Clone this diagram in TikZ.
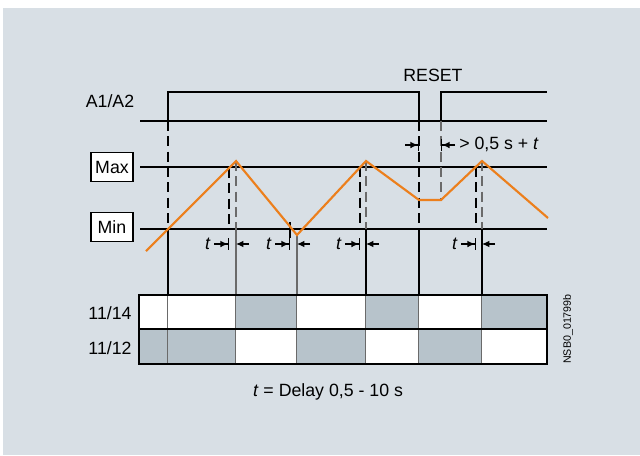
\documentclass[tikz,border=0pt]{standalone}
\usepackage{fontspec}
\setmainfont{Liberation Sans}
\usetikzlibrary{arrows.meta,positioning}
\definecolor{SiBack}{HTML}{D8DFE5}
\definecolor{SiCell}{HTML}{B7C3CB}
\definecolor{SiOrange}{HTML}{EC7F1C}
\definecolor{SiLine}{HTML}{6A6A6A}

\begin{document}
\begin{tikzpicture}[x=0.75pt,y=-0.75pt,font=\fontsize{13.3}{16}\selectfont,
  level/.style={line width=0.9pt},
  signal/.style={line width=1.7pt,line join=miter},
  ramp/.style={SiOrange,line width=1.6pt,line join=miter},
  guide/.style={line width=0.9pt,dash pattern=on 7.5pt off 4pt},
  drop/.style={line width=0.9pt},
  tag/.style={draw,fill=white,line width=0.9pt,inner xsep=3pt,minimum width=31.5pt,minimum height=22pt},
  delayin/.style={line width=0.9pt,-{Latex[length=5.5pt,width=5pt]Bar[width=9pt,line width=0.9pt]}},
  delayout/.style={line width=0.9pt,-{Latex[length=5.5pt,width=5pt]}}]
  % background
  \fill[SiBack] (3,8) rectangle (640,455);
  \useasboundingbox (0,0) rectangle (640,455);

  % labels
  \node (a1a2) at (110,101) {A1/A2};
  \node[tag] (max) at (112,167) {Max};
  \node[tag] (min) at (112,227) {Min};
  \node (reset) at (433,75) {RESET};

  % levels
  \draw[level] (140,121) -- (547,121);
  \draw[level] (140,167) -- (547,167);
  \draw[level] (140,229) -- (547,229);

  % supply A1/A2
  \draw[signal] (140,121) -- (168,121) -- (168,92) -- (419,92) -- (419,121)
    -- (441,121) -- (441,92) -- (547,92);

  % guide lines
  \draw[guide] (168,121) -- (168,229);
  \draw[drop] (168,229) -- (168,295);
  \draw[guide] (419,121) -- (419,229);
  \draw[drop] (419,229) -- (419,295);
  \draw[guide,SiLine] (441,121) -- (441,200);
  \draw[guide,SiLine] (236,161) -- (236,229);
  \draw[drop,SiLine] (236,229) -- (236,295);
  \draw[drop,SiLine] (297,235) -- (297,295);
  \draw[guide,SiLine] (366,161) -- (366,229);
  \draw[drop] (366,229) -- (366,295);
  \draw[guide,SiLine] (482,161) -- (482,229);
  \draw[drop] (482,229) -- (482,295);
  \draw[guide] (229,168) -- (229,229);
  \draw[drop] (290,222) -- (290,238);
  \draw[guide] (360,167) -- (360,229);
  \draw[guide] (476,167) -- (476,229);

  % measured value
  \draw[ramp] (146,251) -- (236,161) -- (297,235) -- (366,161) -- (419,200)
    -- (441,200) -- (482,161) -- (548,218);

  % delay t
  \foreach \ta/\tb [count=\i] in {229/236,290/297,360/366,476/482}{
    \node (t\i) at (\ta-21,244) {\textit{t}};
    \draw[delayin] (\ta-15,244) -- (\ta,244);
    \draw[delayout] (\tb+13,244) -- (\tb,244);
  }

  % reset pause
  \draw[delayin] (405,145) -- (419,145);
  \draw[delayin] (455,145) -- (441,145);
  \node[anchor=west,inner sep=0pt] (pause) at (459,144) {> 0,5 s + \textit{t}};

  % contacts
  \foreach \xa/\xb/\fa/\fb in {139/168/white/SiCell,168/236/white/SiCell,
    236/297/SiCell/white,297/366/white/SiCell,366/419/SiCell/white,
    419/482/white/SiCell,482/547/SiCell/white}{
    \fill[\fa] (\xa,295) rectangle (\xb,329);
    \fill[\fb] (\xa,329) rectangle (\xb,364);
    \draw[drop,SiLine] (\xb,295) -- (\xb,364);
  }
  \draw[line width=1.3pt] (139,329) -- (547,329);
  \draw[line width=1.6pt] (139,295) rectangle (547,364);
  \node (no) at (110,313) {11/14};
  \node (nc) at (110,348) {11/12};
  \node[rotate=90,font=\fontsize{8}{9}\selectfont] (code) at (568,329) {NSB0\_01799b};

  \node (delay) at (328,392) {\textit{t} = Delay 0,5 - 10 s};
\end{tikzpicture}
\end{document}
